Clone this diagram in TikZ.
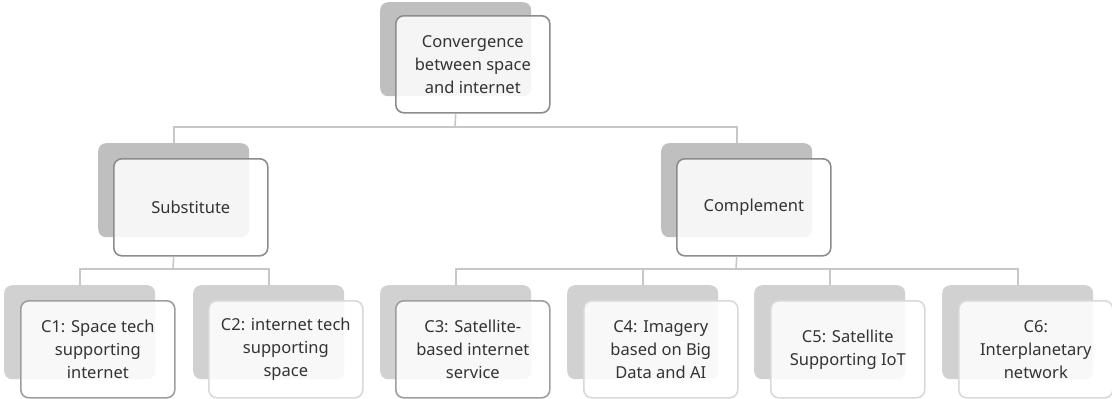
\documentclass[tikz,border=0pt]{standalone}
\usepackage{fontspec}
\setmainfont{Noto Sans}
\begin{document}
\begin{tikzpicture}[x=1pt,y=-1pt,
  backbox/.style={draw=none,fill=#1,rounded corners=8pt,anchor=north west,minimum width=151pt,minimum height=94pt,inner sep=0pt},
  frontbox/.style={draw=#1,line width=1.6pt,fill=white,fill opacity=0.86,text opacity=1,rounded corners=8pt,anchor=north west,minimum width=154pt,minimum height=97pt,inner sep=0pt,align=center,text=black!80,font=\fontsize{16.5}{23}\selectfont},
  conn/.style={draw=black!22,line width=1.6pt}]
\useasboundingbox (0,0) rectangle (1112,399);
% level 1
\node[backbox=black!25] (topb) at (380,2) {};
\node[frontbox=black!45] (top) at (395,15) {Convergence\\between space\\and internet};
% level 2
\node[backbox=black!25] (subb) at (98,143) {};
\node[frontbox=black!45] (sub) at (113,158) {Substitute};
\node[backbox=black!25] (compb) at (661,143) {};
\node[frontbox=black!45] (comp) at (676,158) {Complement};
% level 3
\node[backbox=black!18] (c1b) at (4,285) {};
\node[frontbox=black!38] (c1) at (20,300) {C1: Space tech\\supporting\\internet};
\node[backbox=black!18] (c2b) at (193,285) {};
\node[frontbox=black!15] (c2) at (208,300) {C2: internet tech\\supporting\\space};
\node[backbox=black!18] (c3b) at (380,285) {};
\node[frontbox=black!38] (c3) at (395,300) {C3: Satellite-\\based internet\\service};
\node[backbox=black!18] (c4b) at (567,285) {};
\node[frontbox=black!15] (c4) at (583,300) {C4: Imagery\\based on Big\\Data and AI};
\node[backbox=black!18] (c5b) at (754,285) {};
\node[frontbox=black!15] (c5) at (770,300) {C5: Satellite\\Supporting IoT};
\node[backbox=black!18] (c6b) at (942,285) {};
\node[frontbox=black!15] (c6) at (958,300) {C6:\\Interplanetary\\network};
% connectors
\coordinate (bus1) at (455,127);
\draw[conn] (topb.center |- top.south) -- (bus1);
\draw[conn] (bus1) -| (subb.north);
\draw[conn] (bus1) -| (compb.north);
\coordinate (bus2) at (173,269);
\draw[conn] (subb.center |- sub.south) -- (bus2);
\draw[conn] (bus2) -| (c1b.north);
\draw[conn] (bus2) -| (c2b.north);
\coordinate (bus3) at (736,269);
\draw[conn] (compb.center |- comp.south) -- (bus3);
\draw[conn] (bus3) -| (c3b.north);
\draw[conn] (bus3) -| (c4b.north);
\draw[conn] (bus3) -| (c5b.north);
\draw[conn] (bus3) -| (c6b.north);
\end{tikzpicture}
\end{document}
